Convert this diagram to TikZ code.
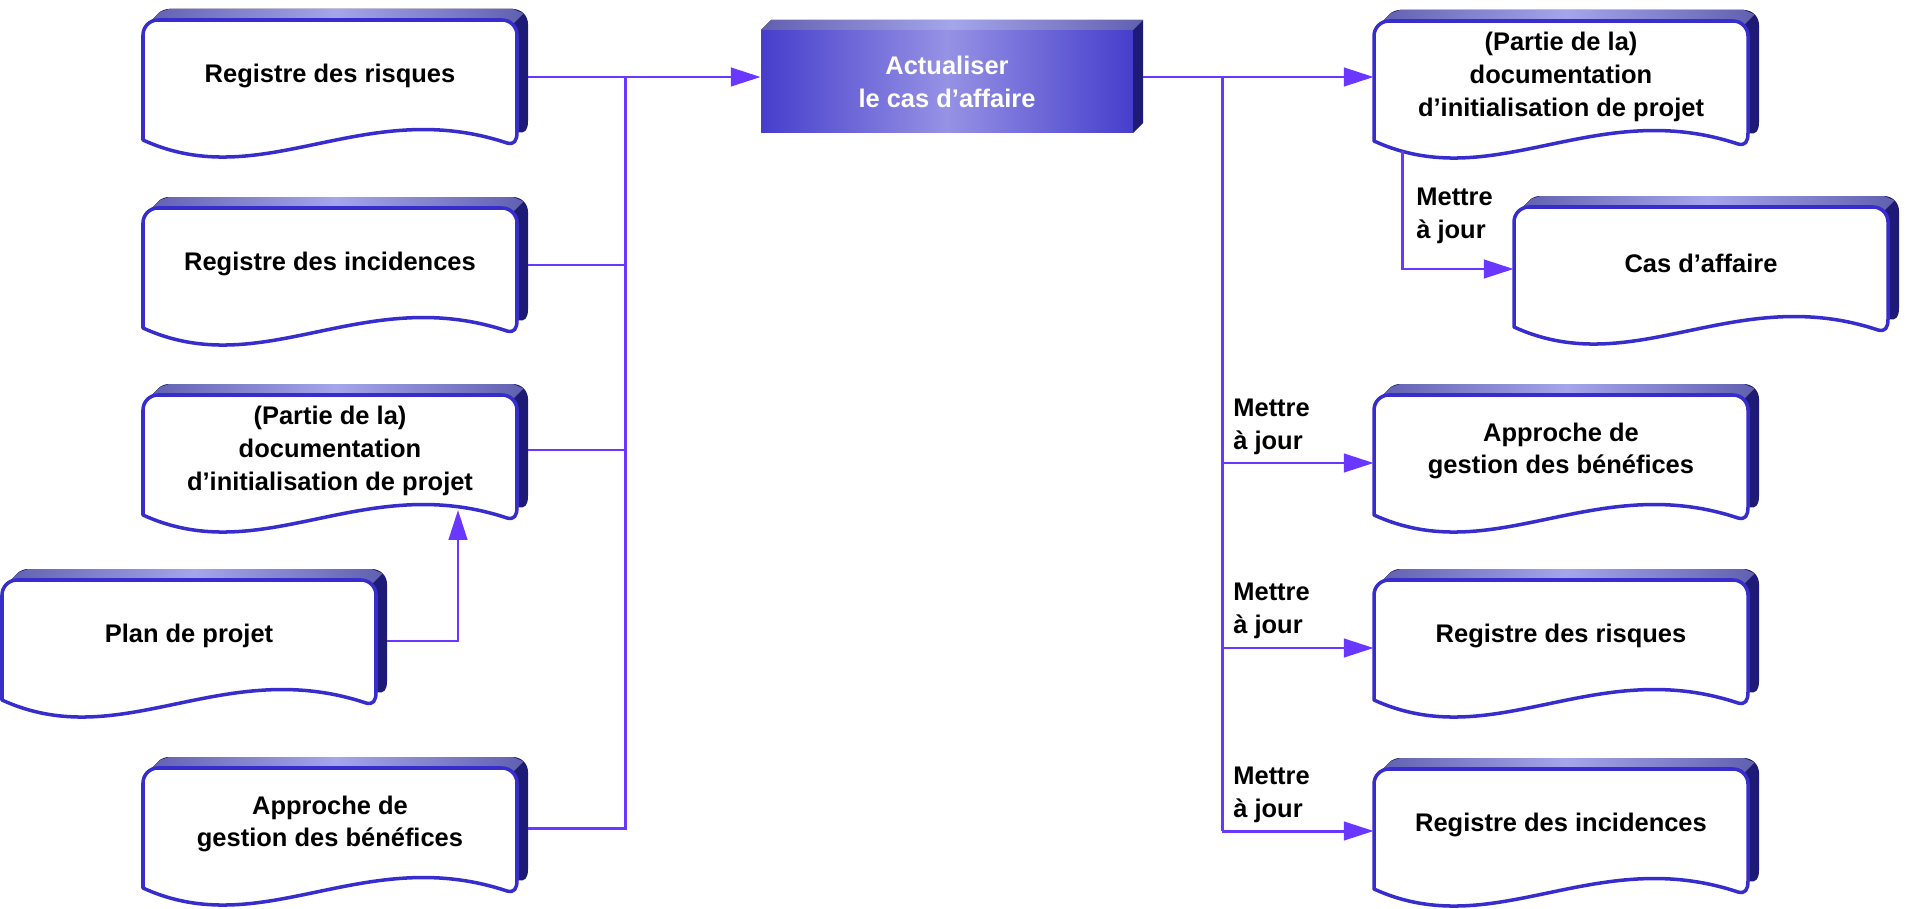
\documentclass[tikz,border=0pt]{standalone}
\usepackage{fontspec}
\setmainfont{Liberation Sans}
\usetikzlibrary{arrows.meta,fadings}
\definecolor{conn}{RGB}{105,55,255}
\definecolor{bord}{RGB}{55,45,205}
\definecolor{bordlight}{RGB}{155,150,238}
\definecolor{sidec}{RGB}{30,26,120}
\definecolor{topd}{RGB}{96,96,176}
\definecolor{topl}{RGB}{165,165,235}
\definecolor{boxd}{RGB}{70,62,204}
\definecolor{boxl}{RGB}{150,146,228}
\tikzfading[name=midfade, left color=transparent!100, middle color=transparent!0, right color=transparent!100]
\newcommand\docpath{(0,120) -- (0,15) .. controls (0,6.7) and (6.7,0) .. (15,0) -- (359,0) .. controls (367.3,0) and (374,6.7) .. (374,15) -- (374,112) .. controls (374,121) and (371,125) .. (364,123) .. controls (220,75) and (120,175) .. (0,120) -- cycle}
\newcommand\docbox[4]{%
 \begin{scope}[shift={(#1,#2)}]
  \fill[sidec, shift={(11,-11)}] \docpath;
  \fill[left color=topd, right color=topd, middle color=topl] (4.4,4.4) -- (17,-8) -- (26,-11) -- (370,-11) -- (380.6,-6.6) -- (369.6,4.4) -- cycle;
  \filldraw[fill=white, draw=bord, line width=2pt, line join=round] \docpath;
  \draw[bordlight, line width=2pt, line join=round, path fading=midfade] \docpath;
  \node[doctext] (#3) at (187,56) {#4};
 \end{scope}}
\begin{document}
\begin{tikzpicture}[x=0.02cm, y=-0.02cm,
  doctext/.style={font=\fontsize{14.5}{18.7}\selectfont\bfseries, align=center, minimum width=7.48cm, inner sep=0pt},
  lbl/.style={font=\fontsize{14.5}{18.7}\selectfont\bfseries, align=left, anchor=west, inner sep=0pt},
  procbox/.style={font=\fontsize{14.5}{18.7}\selectfont\bfseries, align=center, text=white, minimum width=7.44cm, minimum height=2.06cm, inner sep=0pt, left color=boxd, right color=boxd, middle color=boxl},
  connline/.style={draw=conn, line width=1.7pt},
  arr/.style={connline, -{Triangle[length=17pt,width=10.5pt]}}]
\useasboundingbox (0,0) rectangle (1914,909);

\docbox{143}{20}{d1}{Registre des risques}
\docbox{143}{208}{d2}{Registre des incidences}
\docbox{143}{395}{d3}{(Partie de la)\\documentation\\d’initialisation de projet}
\docbox{2}{580}{plan}{Plan de projet}
\docbox{143}{768}{d5}{Approche de\\gestion des bénéfices}
\docbox{1374}{21}{r1}{(Partie de la)\\documentation\\d’initialisation de projet}
\docbox{1514}{207}{cas}{Cas d’affaire}
\docbox{1374}{395}{r3}{Approche de\\gestion des bénéfices}
\docbox{1374}{580}{r4}{Registre des risques}
\docbox{1374}{769}{r5}{Registre des incidences}

% process box
\fill[sidec] (1133,30) -- (1143,20) -- (1143,123) -- (1133,133) -- cycle;
\fill[left color=topd, right color=topd, middle color=topl] (761,30) -- (771,20) -- (1143,20) -- (1133,30) -- cycle;
\node[procbox] (act) at (947,81.5) {Actualiser\\le cas d’affaire};

% connection points
\coordinate (jl) at (625,77);
\coordinate (jr) at (1222,77);
\coordinate (d3b) at (458,510);
\coordinate (r1b) at (1402,151);
\path (d1.east) ++(11,1) coordinate (d1o);
\path (d2.east) ++(11,1) coordinate (d2o);
\path (d3.east) ++(11,-1) coordinate (d3o);
\path (plan.east) ++(11,5) coordinate (plano);
\path (d5.east) ++(11,4) coordinate (d5o);
\path (act.east |- jl) ++(10,0) coordinate (acto);
\path (r1.west) coordinate (r1i);
\path (cas.west) ++(0,6) coordinate (casi);
\path (r3.west) ++(0,12) coordinate (r3i);
\path (r4.west) ++(0,12) coordinate (r4i);
\path (r5.west) ++(0,6) coordinate (r5i);

% connectors
\draw[arr] (d1o) -- (act.west |- d1o);
\draw[connline] (d2o) -- (d2o -| jl);
\draw[connline] (d3o) -- (d3o -| jl);
\draw[connline] (d5o) -| (jl);
\draw[arr] (plano) -| (d3b);
\draw[arr] (acto) -- (r1i);
\draw[connline] (jr) -- (jr |- r5i);
\draw[arr] (jr |- r3i) -- (r3i);
\draw[arr] (jr |- r4i) -- (r4i);
\draw[arr] (jr |- r5i) -- (r5i);
\draw[arr] (r1b) |- (casi);

% labels
\node[lbl] (m1) at (1416,216) {Mettre\\à jour};
\node[lbl] (m2) at (1233,427) {Mettre\\à jour};
\node[lbl] (m3) at (1233,611) {Mettre\\à jour};
\node[lbl] (m4) at (1233,795) {Mettre\\à jour};
\end{tikzpicture}
\end{document}
